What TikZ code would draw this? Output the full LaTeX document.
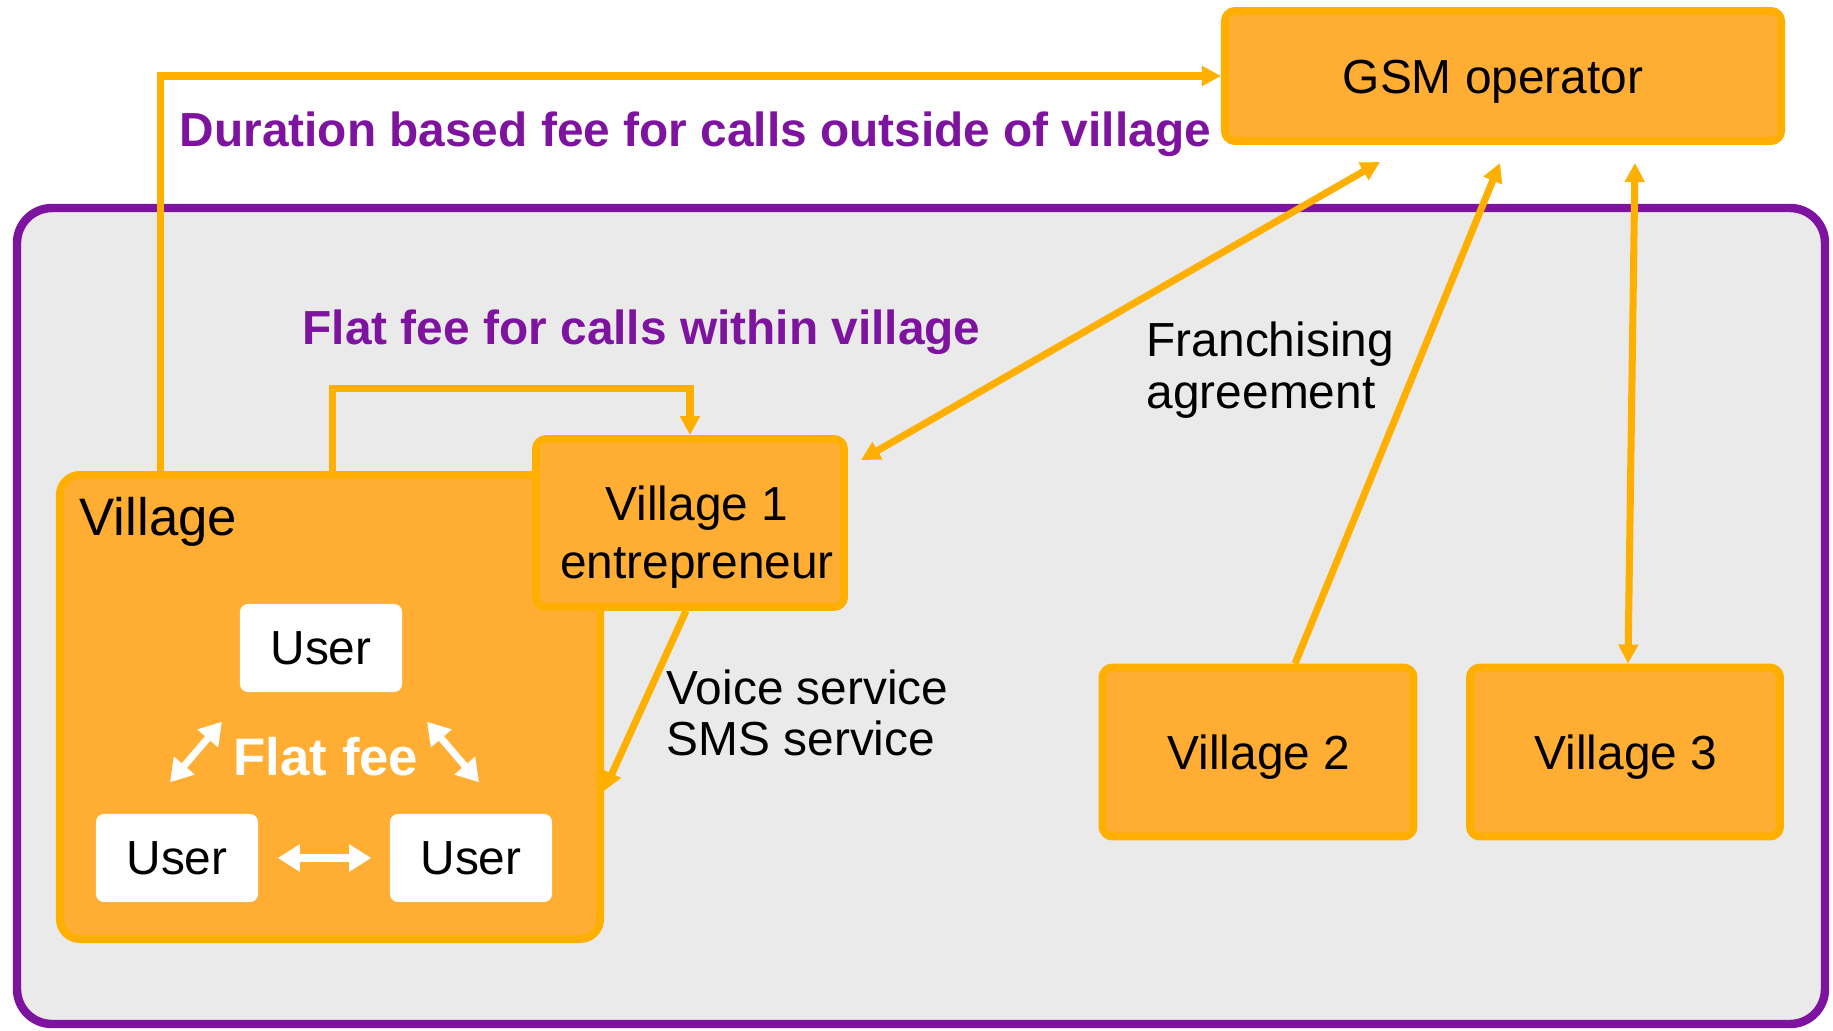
\documentclass[tikz,border=0pt]{standalone}
\usepackage{fontspec}
\setmainfont{Liberation Sans}
\usetikzlibrary{arrows.meta,calc,positioning}

\definecolor{boxorange}{HTML}{FFAD33}
\definecolor{lineorange}{HTML}{FFAF00}
\definecolor{feepurple}{HTML}{7E139F}
\definecolor{areagray}{HTML}{EAEAEA}

\newcommand{\boxfont}{\fontsize{13.6}{16.3}\selectfont}
\newcommand{\labfont}{\fontsize{13.6}{14.6}\selectfont}

\tikzset{
  >={Triangle[length=0.19cm,width=0.19cm]},
  orangebox/.style={draw=lineorange, fill=boxorange, line width=2.2pt,
    rounded corners=0.1cm, inner sep=0pt},
  boxtext/.style={inner sep=0pt, align=center, font=\boxfont},
  userbox/.style={fill=white, rounded corners=0.08cm, inner sep=0pt,
    minimum width=1.62cm, minimum height=0.88cm, font=\boxfont},
  feetext/.style={text=feepurple, inner sep=0pt, font=\boxfont\bfseries},
  plaintext/.style={inner sep=0pt, align=left, font=\labfont},
  orangearrow/.style={draw=lineorange, line width=2pt, ->},
  orangeboth/.style={draw=lineorange, line width=2pt, <->},
  whiteboth/.style={draw=white, line width=2pt,
    {Triangle[length=0.22cm,width=0.26cm]}-{Triangle[length=0.22cm,width=0.26cm]}}
}

\begin{document}
\begin{tikzpicture}[x=0.01cm, y=-0.01cm]
  \useasboundingbox (0,0) rectangle (1833,1030);

  % village area
  \draw[draw=feepurple, fill=areagray, line width=2.4pt, rounded corners=0.35cm]
    (17,208) rectangle (1825,1024);

  % boxes
  \node[orangebox, minimum width=5.56cm, minimum height=1.30cm] (gsm) at (1503,76) {};
  \node[orangebox, rounded corners=0.2cm, minimum width=5.40cm, minimum height=4.64cm] (vil) at (330,707) {};
  \node[orangebox, minimum width=3.08cm, minimum height=1.68cm] (v1) at (690,523) {};
  \node[orangebox, minimum width=3.11cm, minimum height=1.69cm] (v2) at (1258,752) {};
  \node[orangebox, minimum width=3.10cm, minimum height=1.69cm] (v3) at (1625,752) {};

  \node[boxtext] (gsmtext) at ($(gsm.center)+(-10,6)$) {GSM operator};
  \node[boxtext] (v1text) at ($(v1.center)+(7,14)$) {Village 1\\entrepreneur};
  \node[boxtext] (v2text) at ($(v2.center)+(1,5)$) {Village 2};
  \node[boxtext] (v3text) at ($(v3.center)+(1,5)$) {Village 3};
  \node[inner sep=0pt, anchor=west, font=\fontsize{15}{18}\selectfont] (vlabel) at (79,522) {Village};

  % users
  \node[userbox] (ut) at (321,648) {User};
  \node[userbox] (ubl) at (177,858) {User};
  \node[userbox] (ubr) at (471,858) {User};
  \node[inner sep=0pt, text=white, font=\fontsize{15}{18}\selectfont\bfseries] (wflat) at (326,757) {Flat fee};

  % labels
  \node[feetext, anchor=west] (durfee) at (179,134) {Duration based fee for calls outside of village};
  \node[feetext, anchor=west] (flatfee) at (302,332) {Flat fee for calls within village};
  \node[plaintext, anchor=west] (franch) at (1146,370) {Franchising\\agreement};
  \node[plaintext, anchor=west] (service) at (666,713) {Voice service\\SMS service};

  % connectors
  \draw[orangearrow] ($(vil.north west)+(105,0)$) |- (gsm.west);
  \draw[orangearrow] ($(vil.north west)+(277,0)$) |- ($(v1.north)+(0,-47)$) -- (v1.north);
  \draw[orangeboth] ($(v1.north east)+(13,25)$) -- ($(gsm.south)+(-123,17)$);
  \draw[orangearrow] ($(v2.north)+(37,0)$) -- ($(gsm.south)+(-3,18)$);
  \draw[orangeboth] ($(v3.north)+(3,0)$) -- ($(gsm.south)+(132,18)$);
  \draw[orangearrow] ($(v1.south)+(-4,0)$) -- ($(vil.east)+(0,84)$);

  % flat fee between users
  \draw[whiteboth] ($(ubl.north)+(-7,-31)$) -- ($(ut.south)+(-99,29)$);
  \draw[whiteboth] ($(ut.south)+(106,29)$) -- ($(ubr.north)+(8,-31)$);
  \draw[whiteboth, shorten <=0.19cm, shorten >=0.18cm] (ubl) -- (ubr);
\end{tikzpicture}
\end{document}
